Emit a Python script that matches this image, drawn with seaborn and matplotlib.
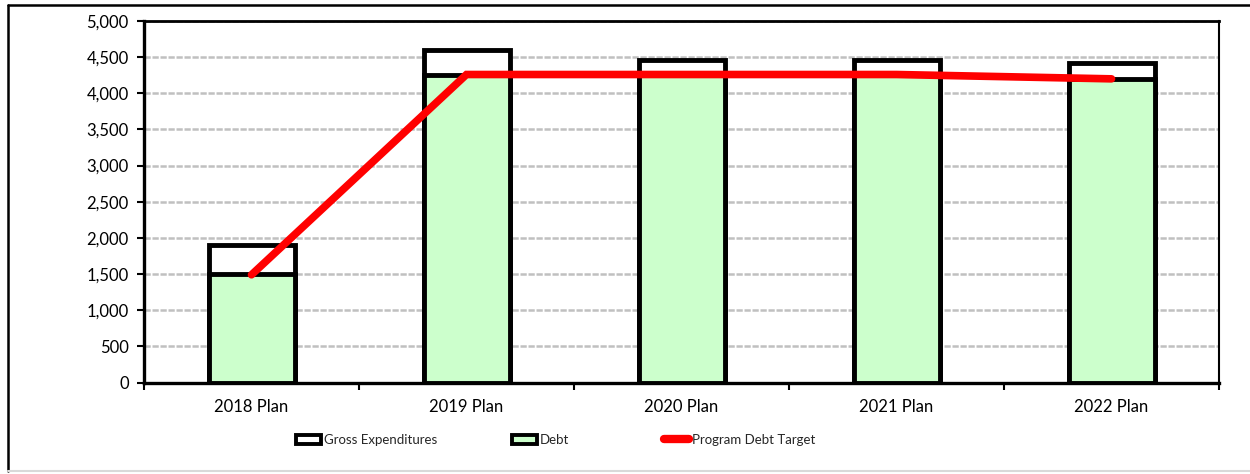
import numpy as np
import matplotlib
matplotlib.use("Agg")
import matplotlib.pyplot as plt
from matplotlib.patches import Patch
from matplotlib.lines import Line2D
from matplotlib.ticker import FuncFormatter, FixedLocator
import seaborn as sns

# Chart data
categories = ["2018 Plan", "2019 Plan", "2020 Plan", "2021 Plan", "2022 Plan"]
gross_expenditures = [1900, 4600, 4460, 4460, 4420]
debt = [1500, 4250, 4250, 4250, 4200]
program_debt_target = [1490, 4260, 4260, 4260, 4200]
y_ticks = [0, 500, 1000, 1500, 2000, 2500, 3000, 3500, 4000, 4500, 5000]
legend_labels = ["Gross Expenditures", "Debt", "Program Debt Target"]

sns.set_theme(style="white")
plt.rcParams["font.family"] = ["Lato", "DejaVu Sans"]

fig = plt.figure(figsize=(12.5, 4.74), dpi=100)
ax = fig.add_axes([0.1152, 0.1930, 0.8600, 0.7627])

green = "#CCFFCC"
red = "#FF0000"
edge_lw = 3.5
bar_w = 0.40

# Gross expenditures as the outer bar, debt stacked in front of it
sns.barplot(x=categories, y=gross_expenditures, color="white", edgecolor="black",
            linewidth=edge_lw, width=bar_w, saturation=1, ax=ax, zorder=3)
sns.barplot(x=categories, y=debt, color=green, edgecolor="black",
            linewidth=edge_lw, width=bar_w, saturation=1, ax=ax, zorder=4)

# Program debt target line across category centres
positions = np.arange(len(categories))
sns.lineplot(x=positions, y=program_debt_target, color=red, linewidth=5.5,
             solid_capstyle="round", solid_joinstyle="miter", ax=ax, zorder=6)

ax.set_xlim(-0.5, len(categories) - 0.5)
ax.set_ylim(y_ticks[0], y_ticks[-1])
ax.set_yticks(y_ticks)
ax.yaxis.set_major_formatter(FuncFormatter(lambda v, p: f"{int(v):,}"))
ax.set_xticks(positions)
ax.set_xticklabels(categories)
ax.xaxis.set_minor_locator(FixedLocator(np.arange(-0.5, len(categories), 1.0)))
ax.set_xlabel("")
ax.set_ylabel("")

# Horizontal dashed grid
for v in y_ticks[1:]:
    ax.axhline(v, color="#C0C0C0", linewidth=1.8, linestyle=(0, (2.5, 0.7)), zorder=1)

ax.tick_params(axis="y", which="major", direction="out", length=5, width=1.5,
               color="black", labelsize=12, pad=6, left=True)
ax.tick_params(axis="x", which="major", length=0, labelsize=12, pad=12)
ax.tick_params(axis="x", which="minor", direction="out", length=5, width=1.5,
               color="black", bottom=True)
for lab in ax.get_xticklabels() + ax.get_yticklabels():
    lab.set_color("black")

for side, lw in (("left", 2.4), ("bottom", 2.4), ("top", 2.0), ("right", 1.5)):
    ax.spines[side].set_visible(True)
    ax.spines[side].set_color("black")
    ax.spines[side].set_linewidth(lw)
    ax.spines[side].set_zorder(7)

# Legend beneath the plot, one entry per anchor
handles = [
    Patch(facecolor="white", edgecolor="black", linewidth=2.8),
    Patch(facecolor=green, edgecolor="black", linewidth=2.8),
    Line2D([0], [0], color=red, linewidth=6, solid_capstyle="round"),
]
anchors_x = [296 / 1250, 512 / 1250, 664 / 1250]
for h, lab, x0 in zip(handles, legend_labels, anchors_x):
    fig.legend([h], [lab], loc="center left", bbox_to_anchor=(x0, 1 - 440 / 474),
               frameon=False, fontsize=9.5, handlelength=1.9, handleheight=0.75,
               handletextpad=0.2, borderpad=0, borderaxespad=0)

# Chart frame
fig.add_artist(Line2D([8 / 1250, 1.0], [1 - 4.5 / 474] * 2, color="black",
                      linewidth=1.8, transform=fig.transFigure))
fig.add_artist(Line2D([8 / 1250] * 2, [1 - 4.5 / 474, 1 - 471 / 474], color="black",
                      linewidth=1.8, transform=fig.transFigure))
fig.add_artist(Line2D([8 / 1250, 1.0], [1 - 471 / 474] * 2, color="#D9D9D9",
                      linewidth=1.5, transform=fig.transFigure))

fig.savefig("out.png", dpi=100)
